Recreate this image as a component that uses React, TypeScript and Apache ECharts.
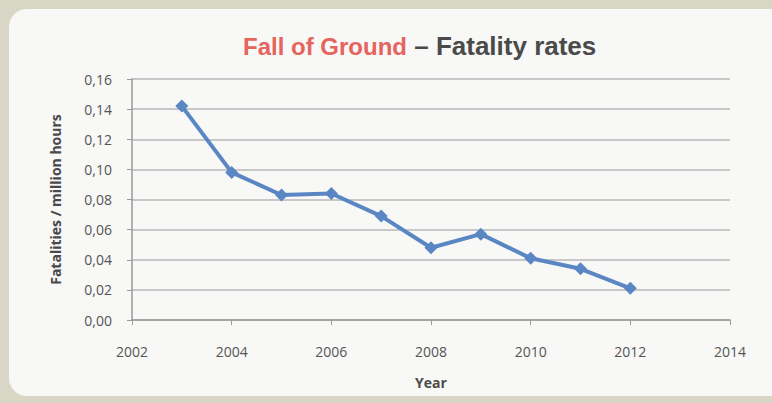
import React, { useEffect, useRef } from "react";
import * as echarts from "echarts";

const years = [2003, 2004, 2005, 2006, 2007, 2008, 2009, 2010, 2011, 2012];
const rates = [0.142, 0.098, 0.083, 0.084, 0.069, 0.048, 0.057, 0.041, 0.034, 0.021];
const titleMain = "Fall of Ground";
const titleSub = " – Fatality rates";
const yAxisName = "Fatalities / million hours";
const xAxisName = "Year";

export default function App() {
  const ref = useRef<HTMLDivElement>(null);
  useEffect(() => {
    document.body.style.margin = "0";
    const chart = echarts.init(ref.current!, null, { renderer: "svg" });
    chart.setOption({
      animation: false,
      backgroundColor: "#d8d7c6",
      graphic: [
        {
          type: "rect",
          z: -10,
          shape: { x: 9, y: 9, width: 780, height: 387, r: 18 },
          style: { fill: "#f8f8f6" },
        },
      ],
      title: {
        text: `{a|${titleMain}}{b|${titleSub}}`,
        left: 238,
        top: 28,
        textStyle: {
          rich: {
            a: { fontFamily: "Liberation Sans", fontSize: 24, fontWeight: "bold", color: "#e6645e" },
            b: { fontFamily: "Liberation Sans", fontSize: 26, fontWeight: "bold", color: "#4a4a4a" },
          },
        },
      },
      grid: { left: 132, right: 42, top: 79, bottom: 83 },
      xAxis: {
        type: "value",
        min: 2002,
        max: 2014,
        interval: 2,
        name: xAxisName,
        nameLocation: "middle",
        nameGap: 55,
        nameTextStyle: { fontFamily: "Open Sans", fontSize: 14, fontWeight: "bold", color: "#4a4a4a" },
        axisLine: { show: true, lineStyle: { color: "#9a9a9a", width: 1.5 } },
        axisTick: { show: true, length: 5, lineStyle: { color: "#9a9a9a" } },
        splitLine: { show: false },
        axisLabel: {
          formatter: (v: number) => String(v),
          fontFamily: "Open Sans",
          fontSize: 14,
          color: "#555",
          margin: 24,
        },
      },
      yAxis: {
        type: "value",
        min: 0,
        max: 0.16,
        interval: 0.02,
        name: yAxisName,
        nameLocation: "middle",
        nameGap: 70,
        nameTextStyle: { fontFamily: "Open Sans", fontSize: 14, fontWeight: "bold", color: "#4a4a4a" },
        axisLine: { show: true, lineStyle: { color: "#9a9a9a", width: 1.5 } },
        axisTick: { show: true, length: 5, lineStyle: { color: "#9a9a9a" } },
        splitLine: { show: true, lineStyle: { color: "#b8b8b8", width: 1.5 } },
        axisLabel: {
          formatter: (v: number) => v.toFixed(2).replace(".", ","),
          fontFamily: "Open Sans",
          fontSize: 14,
          color: "#555",
          margin: 20,
        },
      },
      series: [
        {
          type: "line",
          data: years.map((y, i) => [y, rates[i]]),
          symbol: "diamond",
          symbolSize: 13,
          lineStyle: { color: "#5b86c4", width: 4 },
          itemStyle: { color: "#5b86c4" },
        },
      ],
    });
    return () => chart.dispose();
  }, []);
  return <div ref={ref} style={{ width: 772, height: 403 }} />;
}
